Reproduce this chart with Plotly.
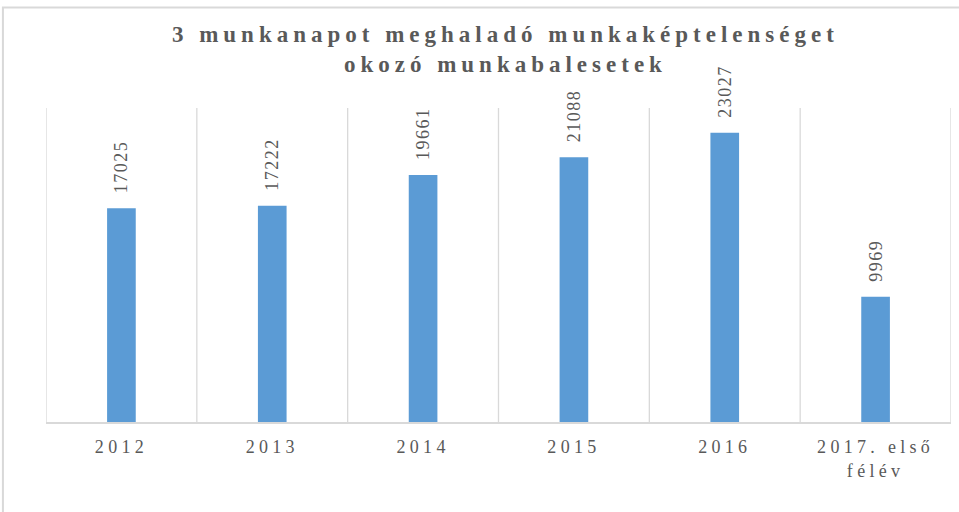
import plotly.graph_objs as go

years = ["2012", "2013", "2014", "2015", "2016", "2017. első<br>félév"]
accidents = [17025, 17222, 19661, 21088, 23027, 9969]
titleLines = ["3 munkanapot meghaladó munkaképtelenséget", "okozó munkabalesetek"]

serif = "Liberation Serif, Times New Roman, serif"
textGrey = "#595959"
gridGrey = "#d9d9d9"


def spaced(text, px):
    return '<span style="letter-spacing:%spx">%s</span>' % (px, text)


positions = list(range(len(years)))

fig = go.Figure(go.Bar(
    x=positions,
    y=accidents,
    marker=dict(color="#5b9bd5", line=dict(width=0)),
    text=[spaced("\u00a0\u00a0" + str(v), 1.5) for v in accidents],
    textposition="outside",
    textangle=-90,
    constraintext="none",
    textfont=dict(family=serif, size=18, color=textGrey),
    cliponaxis=False,
    width=0.19,
    hoverinfo="skip",
))

fig.update_layout(
    width=959,
    height=512,
    margin=dict(t=108, b=90, l=46, r=8, pad=0),
    paper_bgcolor="white",
    plot_bgcolor="white",
    showlegend=False,
    title=dict(
        text="<b>" + "<br>".join(spaced(t, 5) for t in titleLines) + "</b>",
        x=0.527,
        xanchor="center",
        y=0.917,
        yanchor="middle",
        font=dict(family=serif, size=23, color=textGrey),
    ),
    xaxis=dict(
        range=[-0.5, len(years) - 0.5],
        tickvals=positions,
        ticktext=[spaced(y, 4.3) for y in years],
        tickfont=dict(family=serif, size=18, color=textGrey),
        showgrid=False,
        showline=True,
        linecolor=gridGrey,
        linewidth=1.5,
        ticks="",
        ticklabelstandoff=8,
        zeroline=False,
        fixedrange=True,
    ),
    yaxis=dict(
        range=[0, 25000],
        showticklabels=False,
        showgrid=False,
        zeroline=False,
        ticks="",
        fixedrange=True,
    ),
    shapes=[
        dict(type="line", xref="x", yref="paper",
             x0=b - 0.5, x1=b - 0.5, y0=0, y1=1,
             line=dict(color=gridGrey, width=1.3), layer="below")
        for b in range(len(years) + 1)
    ] + [
        dict(type="rect", xref="paper", yref="paper",
             x0=-0.0476, x1=1.03, y0=-0.4, y1=1.32,
             line=dict(color=gridGrey, width=2), layer="below"),
    ],
)

fig.write_html("out.html", config={"displayModeBar": False},
               post_script="document.body.style.margin = '0px';")
